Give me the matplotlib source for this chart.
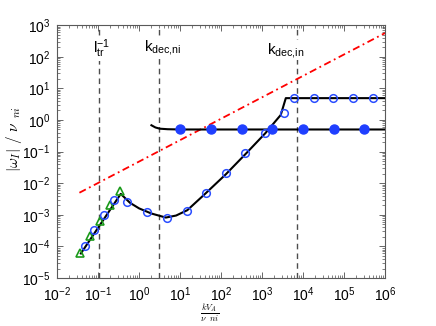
import numpy as np
import matplotlib
matplotlib.use("Agg")
import matplotlib.pyplot as plt
from matplotlib.ticker import LogLocator, NullFormatter

plt.rcParams["font.family"] = ["Liberation Sans", "DejaVu Sans"]
plt.rcParams["mathtext.fontset"] = "custom"
plt.rcParams["mathtext.rm"] = "Liberation Sans"
plt.rcParams["mathtext.it"] = "Liberation Sans:italic"
plt.rcParams["mathtext.bf"] = "Liberation Sans:bold"

# black model curve (low k branch + rise + plateau)
curve_k = [0.038, 0.357, 0.6, 1.0, 2.0, 4.5, 8, 15, 40, 130, 400, 1200, 2860, 3800, 1e6]
curve_w = [6e-5, 0.0046, 0.0024, 0.0016, 0.0011, 0.00082, 0.00095, 0.0014, 0.0045,
           0.019, 0.085, 0.38, 1.44, 4.9, 4.9]

# second black branch
branch_k = [2.0, 2.5, 3.2, 5.0, 10, 1e6]
branch_w = [0.68, 0.58, 0.53, 0.51, 0.5, 0.5]

# open blue circles
open_k = [0.048, 0.081, 0.143, 0.25, 0.52, 1.58, 4.7, 14.5, 43, 132, 385, 1180, 3500,
          6100, 18500, 55000, 166000, 500000]
open_w = [0.000103, 0.00033, 0.00098, 0.0030, 0.0025, 0.00126, 0.00081, 0.00135, 0.0048,
          0.0204, 0.089, 0.38, 1.7, 4.9, 4.9, 4.9, 4.9, 4.9]

# filled blue circles
filled_k = [10, 56, 316, 1780, 10000, 56000, 316000]
filled_w = [0.5, 0.5, 0.5, 0.5, 0.5, 0.5, 0.5]

# green triangles
tri_k = [0.036, 0.064, 0.112, 0.196, 0.344]
tri_w = [6.3e-5, 0.00021, 0.00065, 0.00204, 0.0058]

# red dash-dot reference line
red_k = [0.035, 1e6]
red_w = [0.005, 560]

# characteristic scales
vlines_k = [0.104, 3.1, 7300]
vlabels = [r"$\mathregular{l_{tr}^{-1}}$", r"$\mathregular{k_{dec{,}ni}}$", r"$\mathregular{k_{dec{,}in}}$"]
vlabel_pos = [(0.076, 132), (1.32, 150), (1300, 125)]

fig = plt.figure(figsize=(4.36, 3.26), dpi=100)
ax = fig.add_axes([0.131, 0.147, 0.752, 0.776])

for xv in vlines_k:
    ax.axvline(xv, color="0.3", linestyle=(0, (4, 3)), lw=1.0, zorder=1)

ax.plot(red_k, red_w, color="red", linestyle=(0, (4, 2, 1, 2)), lw=1.3, zorder=2)
ax.plot(curve_k, curve_w, color="black", lw=1.5, zorder=3)
ax.plot(branch_k, branch_w, color="black", lw=1.5, zorder=3)
ax.plot(tri_k, tri_w, linestyle="none", marker="^", ms=6, mfc="none", mec="#1a9a1a", mew=1.2, zorder=4)
ax.plot(open_k, open_w, linestyle="none", marker="o", ms=5.5, mfc="none", mec="#2a4dff", mew=1.1, zorder=5)
ax.plot(filled_k, filled_w, linestyle="none", marker="o", ms=6.5, mfc="#1f3fff", mec="#1f3fff", zorder=5)

for lab, (tx, ty) in zip(vlabels, vlabel_pos):
    ax.text(tx, ty, lab, fontsize=11, ha="left", va="baseline", zorder=6,
            bbox=dict(facecolor="white", edgecolor="none", pad=0.5))

ax.set_xscale("log")
ax.set_yscale("log")
ax.set_xlim(1e-2, 1e6)
ax.set_ylim(1e-5, 1e3)

for axis in (ax.xaxis, ax.yaxis):
    axis.set_major_locator(LogLocator(base=10, numticks=20))
    axis.set_minor_locator(LogLocator(base=10, subs=np.arange(2, 10), numticks=200))
    axis.set_minor_formatter(NullFormatter())

ax.tick_params(which="both", direction="in", top=True, right=True, colors="0.3",
               labelcolor="black", labelsize=10, pad=5)
ax.tick_params(which="major", length=4, width=0.6)
ax.tick_params(which="minor", length=2, width=0.5)
for sp in ax.spines.values():
    sp.set_color("0.35")
    sp.set_linewidth(0.8)

ax.set_ylabel(r"$|\omega_I|\ /\ \nu_{\ \ ni}$", fontsize=11, math_fontfamily="cm")
ax.yaxis.set_label_coords(-0.10, 0.55)
ax.set_xlabel(r"$\frac{kV_A}{\nu\ \ ni}$", fontsize=9, math_fontfamily="cm")
ax.xaxis.set_label_coords(0.466, -0.09)

fig.savefig("out.png", dpi=100)
